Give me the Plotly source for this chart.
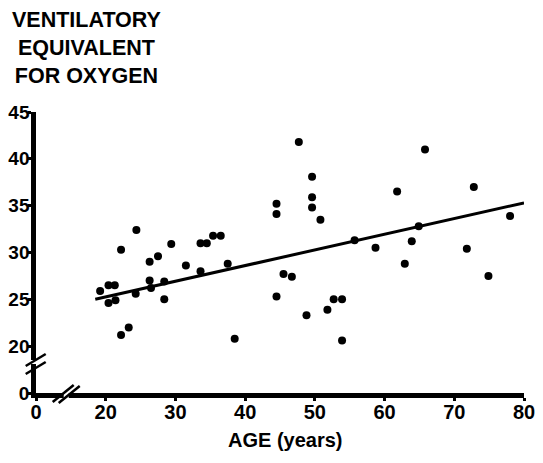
import plotly.graph_objects as go

# Data (age in years, ventilatory equivalent for O2)
age = [19.2, 20.4, 21.3, 20.4, 21.4, 22.2, 24.4, 22.2, 23.3, 24.3,
       26.3, 27.5, 26.3, 26.5, 28.4, 28.4, 29.4, 31.5, 33.6, 34.5,
       33.6, 35.4, 36.5, 37.5, 38.5, 44.5, 44.5, 44.5, 47.7, 49.6,
       49.6, 49.6, 50.8, 45.5, 46.7, 48.8, 51.8, 52.7, 53.9, 53.9,
       55.7, 58.7, 61.8, 62.9, 63.9, 64.9, 65.8, 71.8, 72.8, 74.9,
       78.0]
vent_eq = [25.9, 26.5, 26.5, 24.6, 24.9, 30.3, 32.4, 21.2, 22.0, 25.6,
           29.0, 29.6, 27.0, 26.2, 26.9, 25.0, 30.9, 28.6, 31.0, 31.0,
           28.0, 31.8, 31.8, 28.8, 20.8, 35.2, 34.1, 25.3, 41.8, 38.1,
           35.9, 34.8, 33.5, 27.7, 27.4, 23.3, 23.9, 25.0, 25.0, 20.6,
           31.3, 30.5, 36.5, 28.8, 31.2, 32.8, 41.0, 30.4, 37.0, 27.5,
           33.9]

# Regression line end points
line_age = [18.5, 80.0]
line_vent = [25.0, 35.3]

# Axis ticks (axis is broken: the "0" tick sits just below the break)
x_tickvals = [10, 20, 30, 40, 50, 60, 70, 80]
x_ticktext = ["0", "20", "30", "40", "50", "60", "70", "80"]
y_tickvals = [15, 20, 25, 30, 35, 40, 45]
y_ticktext = ["0", "20", "25", "30", "35", "40", "45"]

# The page body has an 8px margin, so the figure starts at (8, 8) on the page.
OFF = 8
W, H = 543 - OFF, 463 - OFF
# plot area in page pixels
PL, PR, PT, PB = 36.3, 524, 112, 393
L, T = PL - OFF, PT - OFF
R = W - (PR - OFF)
B = H - (PB - OFF)
PW, PH = W - L - R, H - T - B

FONT = "Liberation Sans"

fig = go.Figure()
fig.add_trace(go.Scatter(x=line_age, y=line_vent, mode="lines",
                         line=dict(color="black", width=3),
                         hoverinfo="skip", cliponaxis=False))
fig.add_trace(go.Scatter(x=age, y=vent_eq, mode="markers",
                         marker=dict(color="black", size=8, line=dict(width=0)),
                         cliponaxis=False))


def page_to_paper(px, py):
    return ((px - OFF) - L) / PW, (H - B - (py - OFF)) / PH


shapes = []


def seg(x0, y0, x1, y1, color="black", width=2.5):
    a = page_to_paper(x0, y0)
    b = page_to_paper(x1, y1)
    shapes.append(dict(type="line", xref="paper", yref="paper",
                       x0=a[0], y0=a[1], x1=b[0], y1=b[1],
                       line=dict(color=color, width=width), layer="above"))


# y-axis break
seg(34.3, 364, 34.3, 360, color="white", width=8)
seg(26, 366, 46, 354)
seg(26, 374, 46, 362)
# x-axis break
seg(64, 395, 69, 395, color="white", width=8)
seg(53, 402, 74, 385)
seg(59, 403, 80, 386)

tx, ty = page_to_paper(87, 6)
ax_x, ax_y = page_to_paper(286, 440)

fig.update_layout(
    template="none",
    width=W, height=H,
    margin=dict(l=L, r=R, t=T, b=B, pad=0),
    paper_bgcolor="white", plot_bgcolor="white",
    showlegend=False,
    shapes=shapes,
    xaxis=dict(range=[10, 80], tickvals=x_tickvals, ticktext=x_ticktext,
               automargin=False,
               showgrid=False, zeroline=False, showline=True,
               linecolor="black", linewidth=4.5,
               ticks="outside", ticklen=3, tickwidth=3, tickcolor="black",
               ticklabelstandoff=-6,
               tickfont=dict(family=FONT, size=20, color="black", weight="bold")),
    yaxis=dict(range=[15, 45], tickvals=y_tickvals, ticktext=y_ticktext,
               automargin=False,
               showgrid=False, zeroline=False, showline=True,
               linecolor="black", linewidth=4.5,
               ticks="outside", ticklen=3, tickwidth=3, tickcolor="black",
               ticklabelstandoff=-5,
               tickfont=dict(family=FONT, size=19, color="black", weight="bold")),
    annotations=[
        dict(text="VENTILATORY<br>EQUIVALENT<br>FOR OXYGEN",
             xref="paper", yref="paper", x=tx, y=ty,
             xanchor="center", yanchor="top", align="center",
             showarrow=False,
             font=dict(family=FONT, size=21.5, color="black", weight="bold")),
        dict(text="AGE (years)",
             xref="paper", yref="paper", x=ax_x, y=ax_y,
             xanchor="center", yanchor="middle", align="center",
             showarrow=False,
             font=dict(family=FONT, size=20, color="black", weight="bold")),
    ],
)

fig.write_html("out.html")
